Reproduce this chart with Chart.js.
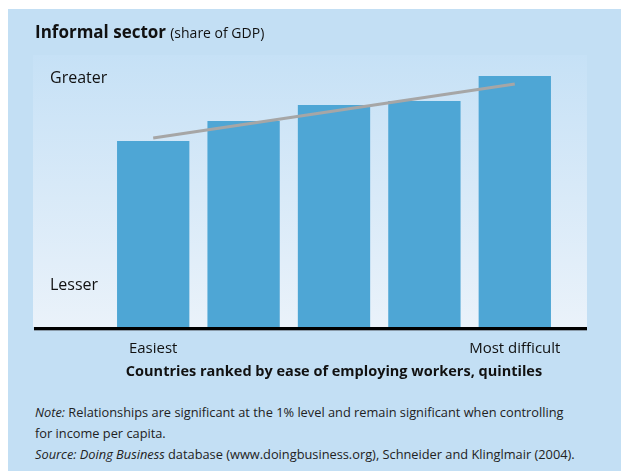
<!DOCTYPE html>
<html lang="en">
<head>
<meta charset="UTF-8">
<title>Informal sector</title>
<style>
  body { margin: 0; background: #fff; width: 621px; height: 471px; overflow: hidden; font-family: "Open Sans", sans-serif; }
  #panel { position: absolute; left: 8px; top: 9px; width: 613px; height: 462px; background: #c3dff4; }
  #chart { position: absolute; left: 0; top: 0; }
  #title { position: absolute; left: 35px; top: 20px; color: #111; white-space: nowrap; }
  #title b { font-size: 17px; }
  #title span { font-size: 14px; }
  #notes { position: absolute; left: 35px; top: 402px; font-size: 12.8px; line-height: 21px; color: #222; white-space: nowrap; }
</style>
<script src="https://cdn.jsdelivr.net/npm/chart.js"></script>
</head>
<body>
<div id="panel"></div>
<canvas id="chart" width="621" height="390"></canvas>
<div id="title"><b>Informal sector</b> <span>(share of GDP)</span></div>
<div id="notes">
  <i>Note:</i> Relationships are significant at the 1% level and remain significant when controlling<br>
  for income per capita.<br>
  <i>Source: Doing Business</i> database (www.doingbusiness.org), Schneider and Klinglmair (2004).
</div>
<script>
  // quintiles, easiest -> most difficult
  const quintiles = ['Easiest', '', '', '', 'Most difficult'];
  const informalShare = [68.4, 75.7, 81.6, 83.1, 92.3];   // relative scale 0-100
  const trendLine = [69.5, null, null, null, 89.3];
  const yTickValues = [15.4, 91.5];
  const yTickLabels = ['Lesser', 'Greater'];

  // plot panel gradient + heavy baseline
  const panelPlugin = {
    id: 'panel',
    beforeDraw(chart) {
      const ctx = chart.ctx, a = chart.chartArea;
      const g = ctx.createLinearGradient(0, a.top, 0, a.bottom);
      g.addColorStop(0, '#c6e1f6');
      g.addColorStop(1, '#eaf2fa');
      ctx.save();
      ctx.fillStyle = g;
      ctx.fillRect(33, a.top, 554, a.bottom - a.top);
      ctx.restore();
    },
    afterDatasetsDraw(chart) {
      const ctx = chart.ctx, a = chart.chartArea;
      ctx.save();
      ctx.fillStyle = '#8a9aa8';
      ctx.fillRect(34, a.bottom + 1, 553, 3);
      ctx.fillStyle = '#000';
      ctx.fillRect(34, a.bottom, 553, 3);
      ctx.restore();
    }
  };

  new Chart(document.getElementById('chart'), {
    type: 'bar',
    data: {
      labels: quintiles,
      datasets: [{
        type: 'line',
        data: trendLine,
        spanGaps: true,
        borderColor: '#a6a6a6',
        borderWidth: 3,
        pointRadius: 0,
        order: 0
      }, {
        data: informalShare,
        backgroundColor: '#4ea6d5',
        barPercentage: 0.8,
        categoryPercentage: 1,
        order: 1
      }]
    },
    plugins: [panelPlugin],
    options: {
      responsive: false,
      animation: false,
      layout: { padding: { left: 50, right: 61, top: 55, bottom: 0 } },
      plugins: { legend: { display: false }, tooltip: { enabled: false } },
      scales: {
        x: {
          grid: { display: false },
          border: { display: false },
          ticks: { color: '#111', font: { family: 'Open Sans', size: 15 }, padding: 5, maxRotation: 0, autoSkip: false },
          title: {
            display: true,
            text: 'Countries ranked by ease of employing workers, quintiles',
            color: '#111',
            font: { family: 'Open Sans', size: 14.5, weight: 'bold' },
            padding: { top: 0, bottom: 9 }
          },
          afterFit(scale) { scale.height = 63; }
        },
        y: {
          min: 0,
          max: 100,
          grid: { display: false },
          border: { display: false },
          afterBuildTicks(scale) { scale.ticks = yTickValues.map(v => ({ value: v })); },
          ticks: {
            crossAlign: 'far',
            color: '#111',
            font: { family: 'Open Sans', size: 16 },
            callback: (v) => yTickLabels[yTickValues.indexOf(v)]
          },
          afterFit(scale) { scale.width = 58; }
        }
      }
    }
  });
</script>
</body>
</html>
